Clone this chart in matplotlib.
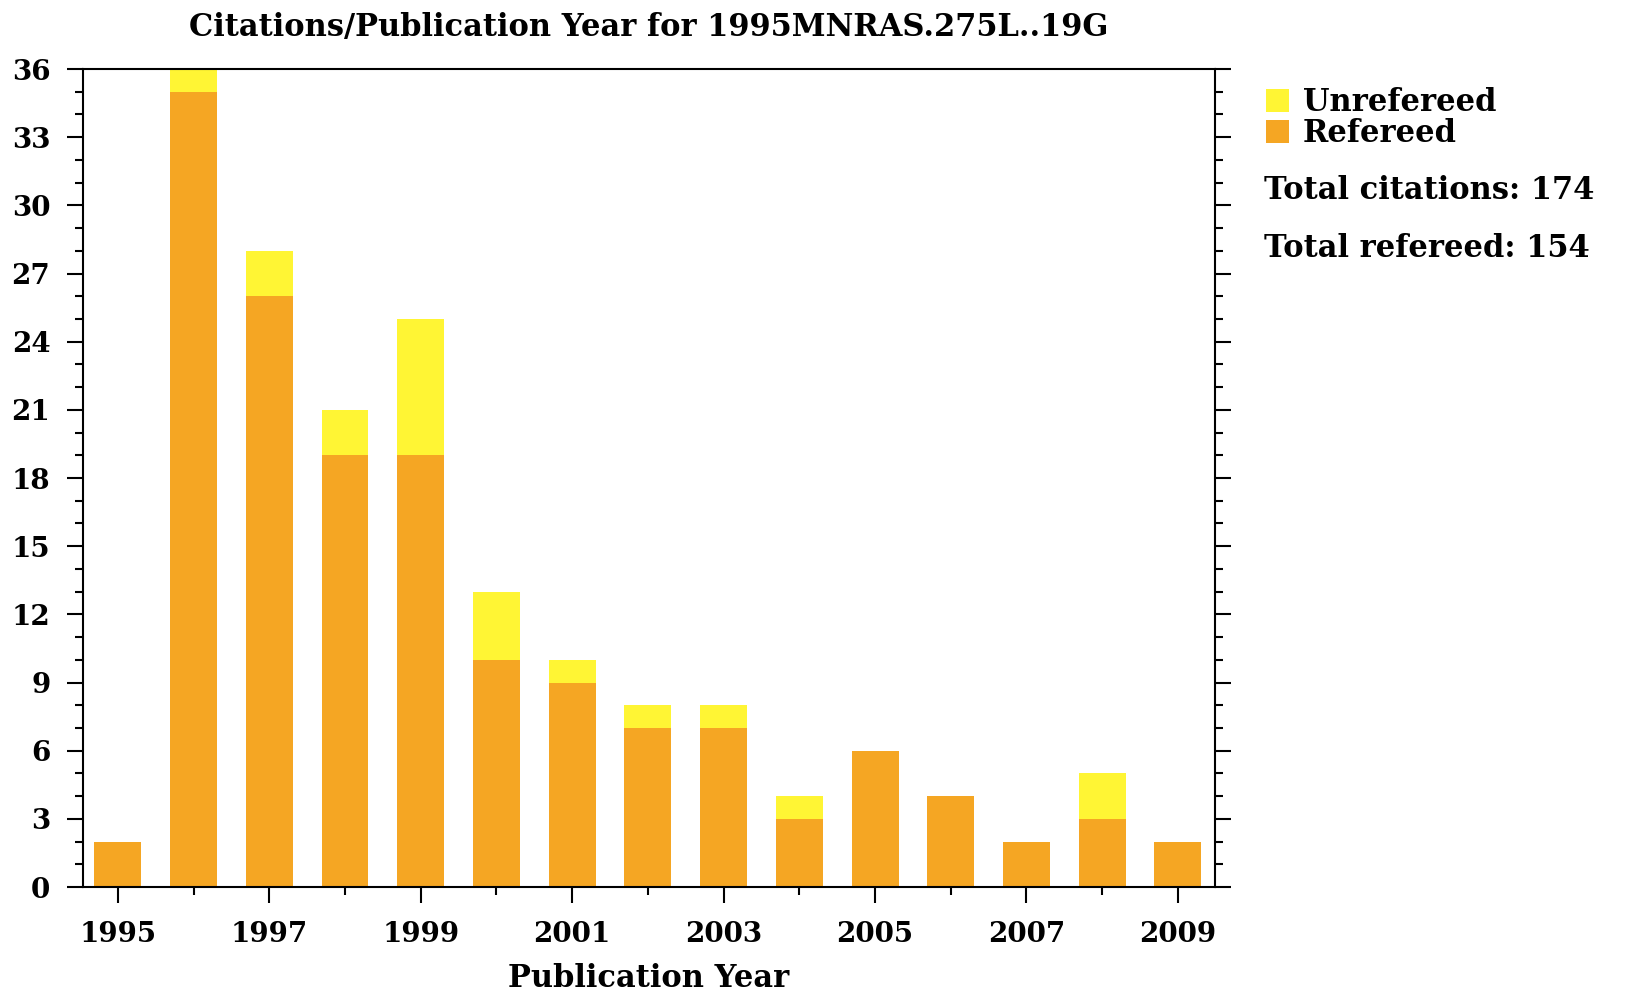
import matplotlib
matplotlib.use("Agg")
import matplotlib.pyplot as plt
from matplotlib.ticker import MultipleLocator

# Data
years = [1995, 1996, 1997, 1998, 1999, 2000, 2001, 2002,
         2003, 2004, 2005, 2006, 2007, 2008, 2009]
refereed = [2, 35, 26, 19, 19, 10, 9, 7, 7, 3, 6, 4, 2, 3, 2]
unrefereed = [0, 1, 2, 2, 6, 3, 1, 1, 1, 1, 0, 0, 0, 2, 0]
year_labels = [str(y) for y in years[::2]]

total_citations = sum(refereed) + sum(unrefereed)
total_refereed = sum(refereed)

ORANGE = "#F5A623"
YELLOW = "#FFF534"
FONT = "DejaVu Serif"

plt.rcParams["font.family"] = FONT
plt.rcParams["font.weight"] = "bold"

fig = plt.figure(figsize=(16.27, 9.92), dpi=100)
ax = fig.add_axes([0.051, 0.1058, 0.6958, 0.8246])

bars_ref = ax.bar(years, refereed, width=0.62, color=ORANGE, label="Refereed")
bars_unref = ax.bar(years, unrefereed, width=0.62, bottom=refereed,
                    color=YELLOW, label="Unrefereed")

ax.set_xlim(1994.54, 2009.49)
ax.set_ylim(0, 36)

# y ticks: major every 3, minor every 1, on both sides
ax.yaxis.set_major_locator(MultipleLocator(3))
ax.yaxis.set_minor_locator(MultipleLocator(1))
ax.tick_params(axis="y", which="major", length=11.5, width=1.5,
               right=True, labelsize=20, pad=12)
ax.tick_params(axis="y", which="minor", length=5.8, width=1.5, right=True)

# x ticks: long ticks on odd years (labelled), short on even years
ax.set_xticks(years[::2])
ax.set_xticklabels(year_labels)
ax.set_xticks(years[1::2], minor=True)
ax.tick_params(axis="x", which="major", length=11.5, width=1.5,
               labelsize=20, pad=13)
ax.tick_params(axis="x", which="minor", length=5.8, width=1.5)

for spine in ax.spines.values():
    spine.set_linewidth(1.5)

ax.set_title("Citations/Publication Year for 1995MNRAS.275L..19G",
             fontsize=22, fontweight="bold", pad=24)
ax.set_xlabel("Publication Year", fontsize=22, fontweight="bold", labelpad=11)

# Legend outside on the right
leg = ax.legend(handles=[bars_unref, bars_ref], labels=["Unrefereed", "Refereed"],
                loc="upper left", bbox_to_anchor=(1.045, 0.978),
                frameon=False, fontsize=22, handlelength=0.75,
                handleheight=0.75, handletextpad=0.45, labelspacing=0.0,
                borderaxespad=0, borderpad=0)

fig.text(0.777, 0.808, f"Total citations: {total_citations}",
         fontsize=22, fontweight="bold", va="center", ha="left")
fig.text(0.777, 0.749, f"Total refereed: {total_refereed}",
         fontsize=22, fontweight="bold", va="center", ha="left")

fig.savefig("out.png", dpi=100, facecolor="white")
